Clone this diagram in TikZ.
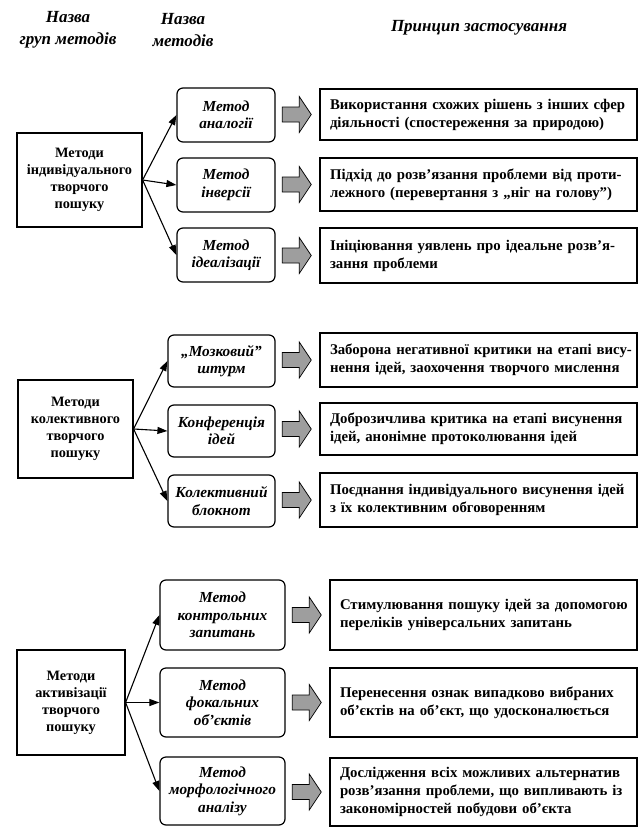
\documentclass[tikz,border=0pt]{standalone}
\usepackage{fontspec}
\setmainfont{Liberation Serif}
\usetikzlibrary{arrows.meta,calc}
\newcommand\oneline[1]{\mbox{#1}}
\tikzset{
  hdr/.style={font=\bfseries\itshape\fontsize{17}{22}\selectfont, align=center, inner sep=0pt},
  grp/.style={draw, line width=1.2pt, inner sep=0pt, align=center,
    font=\bfseries\fontsize{14.3}{17}\selectfont},
  meth/.style={draw, line width=1.2pt, rounded corners=6pt, inner sep=0pt, align=center,
    font=\bfseries\itshape\fontsize{15.3}{17.5}\selectfont},
  prin/.style={draw, line width=1.5pt, inner xsep=10pt, inner ysep=0pt, align=left,
    font=\bfseries\fontsize{14.8}{18}\selectfont},
  conn/.style={line width=1.1pt, -{Triangle[length=10pt,width=7pt]}},
  barrow/.pic={\draw[line width=0.7pt, fill=black!38]
     (0,-7.5) -- (17,-7.5) -- (17,-18) -- (29,0) -- (17,18) -- (17,7.5) -- (0,7.5) -- cycle;}
}
\begin{document}
\begin{tikzpicture}[x=1pt,y=-1pt]
\useasboundingbox (0,0) rectangle (639,827);
% headers
\node[hdr] (h1) at (68,30) {Назва\\груп методів};
\node[hdr] (h2) at (183,30) {Назва\\методів};
\node[hdr] (h3) at (479,28) {Принцип застосування};

% group 1
\node[grp, minimum width=125pt, minimum height=94pt] (g1) at (79.5,180) {Методи\\індивідуального\\творчого\\пошуку};
\node[meth, minimum width=98pt, minimum height=54pt] (m11) at (226,115) {Метод\\аналогії};
\node[meth, minimum width=98pt, minimum height=54pt] (m12) at (226,185) {Метод\\інверсії};
\node[meth, minimum width=98pt, minimum height=54pt] (m13) at (226,255) {Метод\\ідеалізації};
\node[prin, text width=297pt, minimum height=51pt] (r11) at (478.5,114.5) {\oneline{Використання схожих рішень з інших сфер}\\\oneline{діяльності (спостереження за природою)}};
\node[prin, text width=297pt, minimum height=53pt] (r12) at (478.5,184.5) {\oneline{Підхід до розв’язання проблеми від проти-}\\\oneline{лежного (перевертання з „ніг на голову”)}};
\node[prin, text width=297pt, minimum height=55pt] (r13) at (478.5,255.5) {\oneline{Ініціювання уявлень про ідеальне розв’я-}\\\oneline{зання проблеми}};
\draw[conn] (g1.east) -- (m11.west);
\draw[conn] (g1.east) -- (m12.west);
\draw[conn] (g1.east) -- (m13.west);
\pic at ($(r11.west)+(-37,0)$) {barrow};
\pic at ($(r12.west)+(-37,0)$) {barrow};
\pic at ($(r13.west)+(-37,0)$) {barrow};

% group 2
\node[grp, minimum width=115pt, minimum height=98pt] (g2) at (75.5,429) {Методи\\колективного\\творчого\\пошуку};
\node[meth, minimum width=107pt, minimum height=52pt] (m21) at (221.5,361) {„Мозковий”\\штурм};
\node[meth, minimum width=107pt, minimum height=52pt] (m22) at (221.5,431) {Конференція\\ідей};
\node[meth, minimum width=107pt, minimum height=52pt] (m23) at (221.5,501) {Колективний\\блокнот};
\node[prin, text width=297pt, minimum height=54pt] (r21) at (478.5,360) {\oneline{Заборона негативної критики на етапі вису-}\\\oneline{нення ідей, заохочення творчого мислення}};
\node[prin, text width=297pt, minimum height=52pt] (r22) at (478.5,429) {\oneline{Доброзичлива критика на етапі висунення}\\\oneline{ідей, анонімне протоколювання ідей}};
\node[prin, text width=297pt, minimum height=54pt] (r23) at (478.5,500) {\oneline{Поєднання індивідуального висунення ідей}\\\oneline{з їх колективним обговоренням}};
\draw[conn] (g2.east) -- (m21.west);
\draw[conn] (g2.east) -- (m22.west);
\draw[conn] (g2.east) -- (m23.west);
\pic at ($(r21.west)+(-37,0)$) {barrow};
\pic at ($(r22.west)+(-37,0)$) {barrow};
\pic at ($(r23.west)+(-37,0)$) {barrow};

% group 3
\node[grp, minimum width=108pt, minimum height=105pt] (g3) at (71,702.5) {Методи\\активізації\\творчого\\пошуку};
\node[meth, minimum width=125pt, minimum height=70pt] (m31) at (222.5,615) {Метод\\контрольних\\запитань};
\node[meth, minimum width=125pt, minimum height=69pt] (m32) at (222.5,702.5) {Метод\\фокальних\\об’єктів};
\node[meth, minimum width=125pt, minimum height=68pt] (m33) at (222.5,791) {Метод\\морфологічного\\аналізу};
\node[prin, text width=287pt, minimum height=70pt] (r31) at (483.5,615) {\oneline{Стимулювання пошуку ідей за допомогою}\\\oneline{переліків універсальних запитань}};
\node[prin, text width=287pt, minimum height=69pt] (r32) at (483.5,702.5) {\oneline{Перенесення ознак випадково вибраних}\\\oneline{об’єктів на об’єкт, що удосконалюється}};
\node[prin, text width=287pt, minimum height=68pt] (r33) at (483.5,792) {\oneline{Дослідження всіх можливих альтернатив}\\\oneline{розв’язання проблеми, що випливають із}\\\oneline{закономірностей побудови об’єкта}};
\draw[conn] (g3.east) -- (m31.west);
\draw[conn] (g3.east) -- (m32.west);
\draw[conn] (g3.east) -- (m33.west);
\pic at ($(r31.west)+(-37,0)$) {barrow};
\pic at ($(r32.west)+(-37,0)$) {barrow};
\pic at ($(r33.west)+(-37,0)$) {barrow};
\end{tikzpicture}
\end{document}
